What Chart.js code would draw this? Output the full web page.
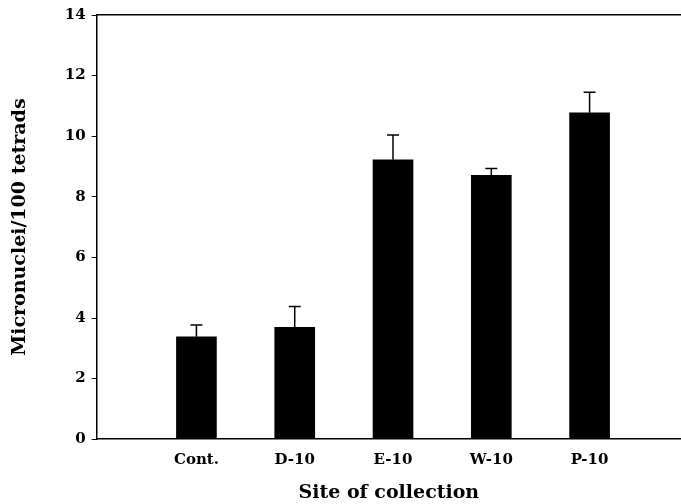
<!DOCTYPE html>
<html>
<head>
<meta charset="utf-8">
<script src="https://cdn.jsdelivr.net/npm/chart.js@4/dist/chart.umd.min.js"></script>
<style>
  html, body { margin: 0; padding: 0; background: #fff; }
  #wrap { width: 681px; height: 504px; }
</style>
</head>
<body>
<div id="wrap"><canvas id="chart"></canvas></div>
<script>
// data
var sites = ['Cont.', 'D-10', 'E-10', 'W-10', 'P-10'];
var meanMN = [3.38, 3.69, 9.22, 8.71, 10.77];
var errMN = [0.39, 0.69, 0.82, 0.22, 0.68];
var yTicks = [0, 2, 4, 6, 8, 10, 12, 14];

var serif = '"DejaVu Serif", serif';
var xMin = -0.015, xMax = 5.93;

// simple upper error bars, drawn after the bars
var errorBars = {
    id: 'errorBars',
    afterDatasetsDraw: function (chart) {
        var ctx = chart.ctx;
        var meta = chart.getDatasetMeta(0);
        var yScale = chart.scales.y;
        ctx.save();
        ctx.strokeStyle = '#000';
        ctx.lineWidth = 1.5;
        meta.data.forEach(function (bar, i) {
            var top = yScale.getPixelForValue(meanMN[i] + errMN[i]);
            ctx.beginPath();
            ctx.moveTo(bar.x, bar.y);
            ctx.lineTo(bar.x, top);
            ctx.moveTo(bar.x - 6, top);
            ctx.lineTo(bar.x + 6, top);
            ctx.stroke();
        });
        ctx.restore();
    }
};

var points = sites.map(function (s, i) { return { x: i + 1, y: meanMN[i] }; });

new Chart(document.getElementById('chart').getContext('2d'), {
    type: 'bar',
    data: {
        datasets: [{
            data: points,
            backgroundColor: '#000',
            borderWidth: 0,
            barThickness: 40
        }]
    },
    options: {
        responsive: true,
        maintainAspectRatio: false,
        animation: false,
        layout: { padding: { top: 12, right: 0, left: 9, bottom: 0 } },
        plugins: { legend: { display: false }, tooltip: { enabled: false } },
        scales: {
            x: {
                type: 'linear',
                offset: false,
                min: xMin,
                max: xMax,
                grid: { display: false, drawTicks: false },
                border: { color: '#000', width: 1.5 },
                afterBuildTicks: function (axis) {
                    axis.ticks = sites.map(function (s, i) { return { value: i + 1 }; });
                },
                ticks: {
                    color: '#000',
                    padding: 12,
                    font: { family: serif, weight: 'bold', size: 15 },
                    callback: function (v) { return sites[v - 1]; }
                },
                title: {
                    display: true,
                    text: 'Site of collection',
                    color: '#000',
                    padding: { top: 0, bottom: 0 },
                    font: { family: serif, weight: 'bold', size: 19 }
                }
            },
            x2: {
                type: 'linear',
                position: 'top',
                offset: false,
                min: xMin,
                max: xMax,
                grid: { display: false, drawTicks: false },
                border: { color: '#000', width: 1.5 },
                ticks: { display: false }
            },
            y: {
                min: 0,
                max: 14,
                afterBuildTicks: function (axis) {
                    axis.ticks = yTicks.map(function (v) { return { value: v }; });
                },
                grid: { drawOnChartArea: false, drawTicks: true, tickLength: 5, color: '#000' },
                border: { color: '#000', width: 1.5 },
                ticks: {
                    color: '#000',
                    padding: 6,
                    font: { family: serif, weight: 'bold', size: 15 }
                },
                title: {
                    display: true,
                    text: 'Micronuclei/100 tetrads',
                    color: '#000',
                    padding: { top: 0, bottom: 27 },
                    font: { family: serif, weight: 'bold', size: 19 }
                }
            }
        }
    },
    plugins: [errorBars]
});
</script>
</body>
</html>
